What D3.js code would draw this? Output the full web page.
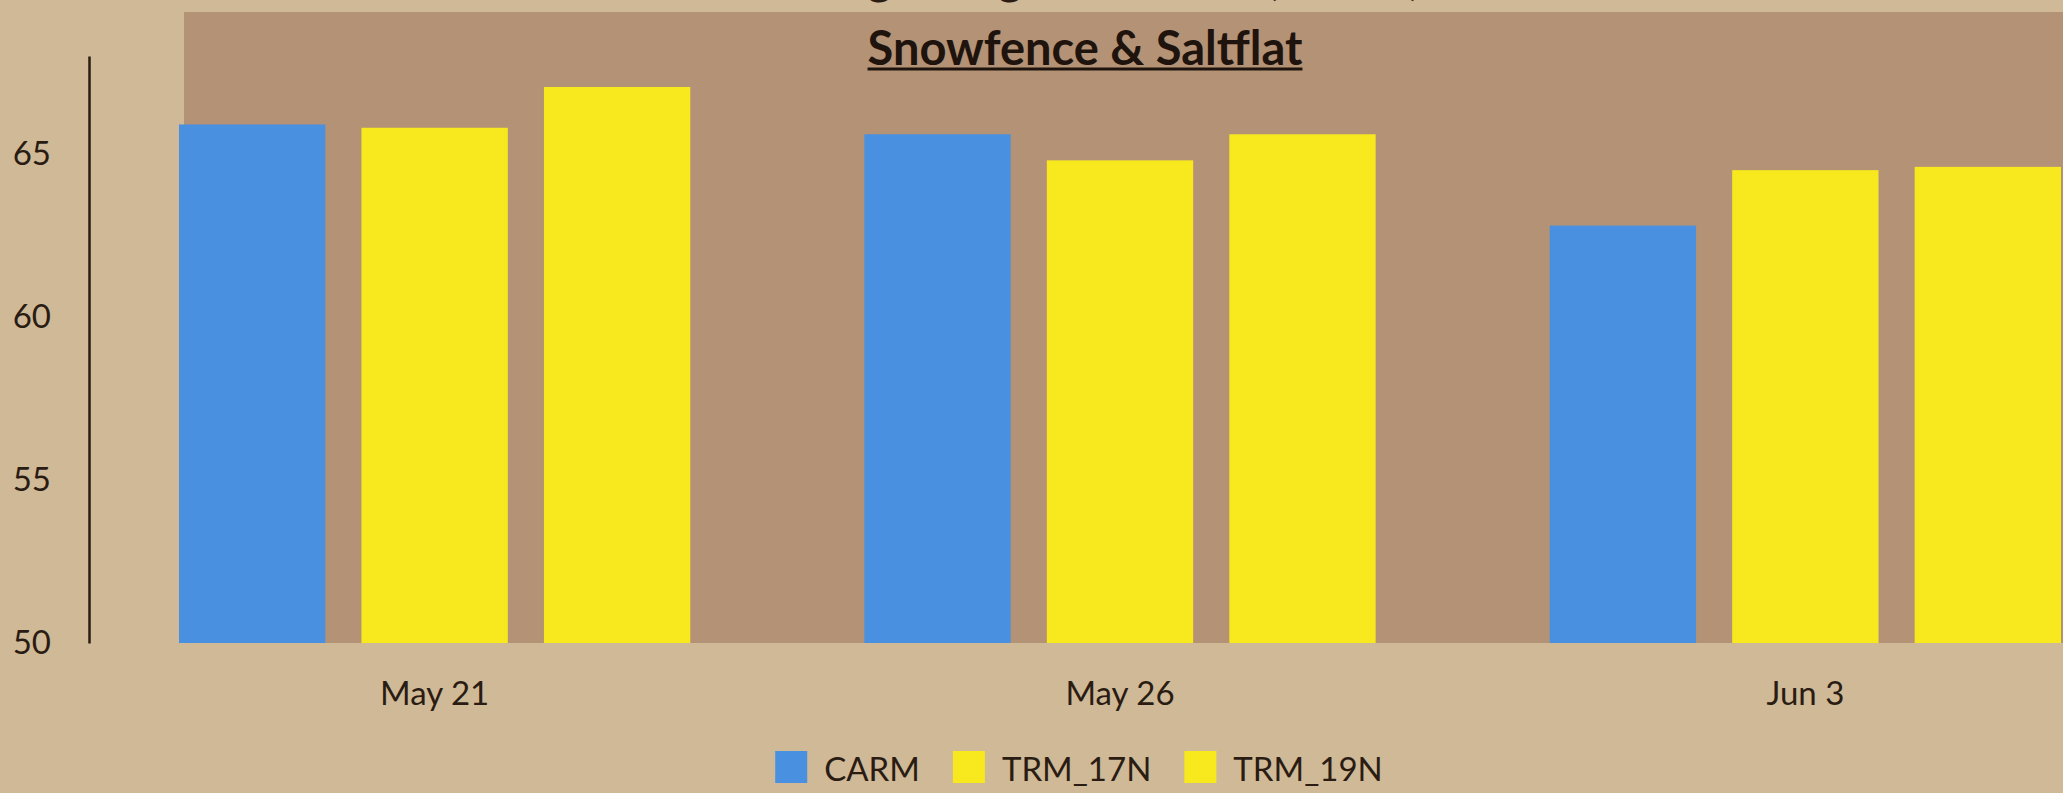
<!DOCTYPE html>
<html>
<head>
<meta charset="utf-8">
<script src="https://cdnjs.cloudflare.com/ajax/libs/d3/7.8.5/d3.min.js"></script>
<style>
  body { margin: 0; background: rgb(207,185,151); }
  svg { display: block; font-family: Lato, "Open Sans", sans-serif; }
</style>
</head>
<body>
<script>
// chart data
var dates = ["May 21", "May 26", "Jun 3"];
var seriesNames = ["CARM", "TRM_17N", "TRM_19N"];
var carm = [65.9, 65.6, 62.8];
var trm17 = [65.8, 64.8, 64.5];
var trm19 = [67.05, 65.6, 64.6];
var yTicks = [50, 55, 60, 65];
var colors = ["#4a90e0", "#f8e81e", "#f8e81e"];

var W = 2063, H = 793;
var ink = "#2a1c12";

var svg = d3.select("body").append("svg")
    .attr("width", W)
    .attr("height", H);

// page background
svg.append("rect")
    .attr("width", W).attr("height", H)
    .attr("fill", "rgb(207,185,151)");

// y scale
var yScale = d3.scaleLinear()
    .domain([50, 68])
    .range([643, 56]);

// brown plot panel
svg.append("rect")
    .attr("x", 184).attr("y", 12)
    .attr("width", W - 184).attr("height", yScale(50) - 12)
    .attr("fill", "rgb(180,146,118)");

// title, mostly above the top edge like in the original screenshot
svg.append("text")
    .attr("x", 1085).attr("y", -6)
    .attr("text-anchor", "middle")
    .attr("font-size", 46).attr("font-weight", "bold")
    .attr("fill", ink)
    .text("Average Height of Plants (inches)");

// subtitle
var sub = svg.append("text")
    .attr("x", 1085).attr("y", 65)
    .attr("text-anchor", "middle")
    .attr("font-size", 47).attr("font-weight", "bold")
    .attr("fill", "#1e140d")
    .text("Snowfence & Saltflat");
var sw = sub.node().getComputedTextLength();
svg.append("line")
    .attr("x1", 1085 - sw / 2).attr("x2", 1085 + sw / 2)
    .attr("y1", 69).attr("y2", 69)
    .attr("stroke", "#1e140d").attr("stroke-width", 3);

// x scales: groups and bars inside groups
var xScale = d3.scaleBand()
    .domain(dates)
    .range([179, 2061])
    .paddingInner(0.254)
    .paddingOuter(0);

var xInner = d3.scaleBand()
    .domain(seriesNames)
    .range([0, xScale.bandwidth()])
    .paddingInner(0.198)
    .paddingOuter(0);

// rows built from the arrays
var values = [carm, trm17, trm19];
var rows = [];
dates.forEach(function(d, i) {
    seriesNames.forEach(function(s, j) {
        rows.push({date: d, series: s, value: values[j][i], color: colors[j]});
    });
});

svg.append("g").selectAll("rect")
    .data(rows)
    .enter().append("rect")
    .attr("x", function(d) { return xScale(d.date) + xInner(d.series); })
    .attr("y", function(d) { return yScale(d.value); })
    .attr("width", xInner.bandwidth())
    .attr("height", function(d) { return yScale(50) - yScale(d.value); })
    .attr("fill", function(d) { return d.color; });

// y axis
var yAxis = svg.append("g")
    .attr("transform", "translate(89,0)")
    .call(d3.axisLeft(yScale).tickValues(yTicks).tickSize(0).tickSizeOuter(0).tickPadding(38));
yAxis.select(".domain").attr("stroke", ink).attr("stroke-width", 2.5);
yAxis.selectAll("text")
    .attr("font-family", "Lato, sans-serif")
    .attr("font-size", 33)
    .attr("fill", ink);

// x axis (labels only)
var xAxis = svg.append("g")
    .attr("transform", "translate(0," + yScale(50) + ")")
    .call(d3.axisBottom(xScale).tickSize(0).tickPadding(39));
xAxis.select(".domain").remove();
xAxis.selectAll("text")
    .attr("font-family", "Lato, sans-serif")
    .attr("font-size", 33)
    .attr("fill", ink);

// legend
var legend = svg.append("g");
var box = 32, gapText = 17, gapItem = 33;
var items = legend.selectAll("g")
    .data(seriesNames)
    .enter().append("g");
items.append("rect")
    .attr("y", 751)
    .attr("width", box).attr("height", box)
    .attr("fill", function(d, i) { return colors[i]; });
items.append("text")
    .attr("x", box + gapText).attr("y", 781)
    .attr("font-size", 33)
    .attr("fill", ink)
    .text(function(d) { return d; });
var cursor = 0;
items.each(function() {
    var g = d3.select(this);
    var tw = g.select("text").node().getComputedTextLength();
    g.attr("transform", "translate(" + cursor + ",0)");
    cursor += box + gapText + tw + gapItem;
});
var total = cursor - gapItem;
legend.attr("transform", "translate(" + (1079 - total / 2) + ",0)");
</script>
</body>
</html>
